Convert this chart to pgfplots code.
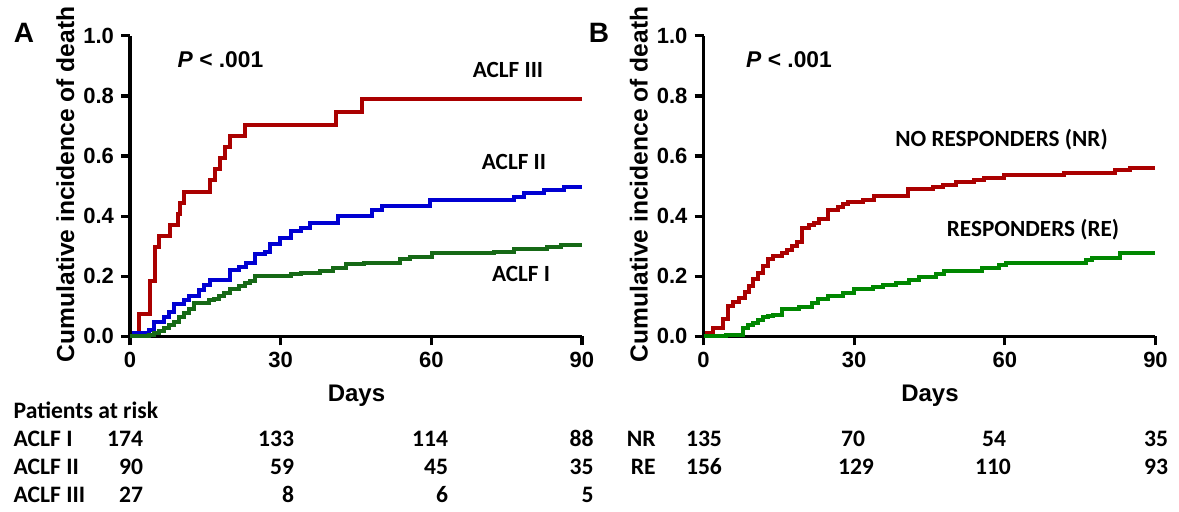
\documentclass[border=0pt]{standalone}
\usepackage{fontspec}
\setmainfont{Liberation Sans}
\newfontfamily\cali{Carlito}
\usepackage{pgfplots}
\pgfplotsset{compat=1.18}
\newcommand{\fs}[1]{\fontsize{#1}{#1}\selectfont}
\definecolor{kmred}{RGB}{170,0,0}
\definecolor{kmblue}{RGB}{0,0,210}
\definecolor{kmgreenA}{RGB}{22,105,22}
\definecolor{kmgreenB}{RGB}{0,135,0}
\pgfplotsset{km/.style={
  scale only axis, width=226pt, height=150.25pt,
  xmin=0, xmax=90, ymin=0, ymax=1,
  axis lines=left, axis line style={-, line width=1.6pt, black},
  tick style={line width=1.6pt, black}, tick align=outside, major tick length=4.5pt,
  xtick={0,30,60,90}, xticklabels={0,30,60,90},
  ytick={0,0.2,0.4,0.6,0.8,1}, yticklabels={0.0,0.2,0.4,0.6,0.8,1.0},
  ticklabel style={font=\bfseries\fs{11}},
  clip=false, anchor=south west,
  every axis plot/.append style={const plot, line width=2pt, no markers}
}}
\begin{document}
\begin{tikzpicture}
\begin{scope}[x=0.5pt,y=-0.5pt,yshift=254.5pt]
\useasboundingbox (0,0) rectangle (1179,509);
\end{scope}

% Panel A
\begin{axis}[km, at={(65pt,87.5pt)}]
\addplot[kmred] coordinates {(0,0) (1.8,0.074) (3.9,0.185) (4.9,0.296) (5.8,0.333) (7.9,0.370) (9.6,0.407) (9.9,0.444) (10.8,0.481) (16.0,0.519) (16.9,0.556) (18.0,0.593) (18.9,0.630) (20.0,0.667) (22.9,0.704) (41.1,0.745) (46.1,0.789) (90,0.789)};
\addplot[kmblue] coordinates {(0,0) (0.8,0.011) (3.8,0.022) (4.8,0.049) (6.7,0.063) (7.8,0.082) (8.8,0.108) (10.8,0.120) (11.8,0.135) (13.8,0.155) (14.8,0.170) (16.0,0.187) (20.0,0.221) (21.8,0.232) (23.1,0.245) (24.8,0.273) (26.8,0.281) (27.8,0.308) (29.8,0.328) (32.1,0.350) (34.1,0.362) (35.8,0.376) (41.5,0.400) (48.1,0.419) (50.1,0.433) (59.8,0.453) (76.5,0.464) (78.5,0.478) (82.5,0.486) (86.5,0.497) (90,0.497)};
\addplot[kmgreenA] coordinates {(0,0) (3.8,0.004) (4.8,0.011) (5.8,0.019) (6.8,0.027) (7.8,0.038) (8.8,0.049) (9.8,0.063) (10.8,0.077) (11.8,0.091) (12.8,0.111) (15.8,0.122) (16.8,0.126) (17.8,0.135) (18.8,0.144) (20.0,0.157) (21.8,0.166) (22.8,0.179) (23.8,0.185) (24.8,0.201) (32.1,0.206) (34.1,0.210) (37.8,0.218) (40.5,0.229) (43.1,0.240) (46.5,0.245) (53.8,0.257) (55.8,0.265) (60.1,0.276) (72.5,0.282) (76.5,0.290) (83.1,0.297) (85.8,0.303) (90,0.303)};
\end{axis}

% Panel B
\begin{axis}[km, at={(351.75pt,87.5pt)}]
\addplot[kmred] coordinates {(0,0) (0.7,0.011) (1.9,0.028) (3.9,0.058) (4.8,0.102) (5.8,0.115) (7.0,0.129) (8.2,0.148) (9.0,0.168) (9.9,0.190) (10.8,0.212) (11.8,0.234) (12.8,0.259) (13.8,0.268) (15.6,0.279) (16.6,0.287) (17.6,0.301) (18.6,0.315) (19.6,0.362) (21.1,0.369) (22.1,0.378) (22.9,0.391) (24.7,0.422) (26.7,0.431) (27.7,0.439) (28.7,0.447) (31.8,0.455) (33.9,0.466) (40.8,0.489) (45.6,0.497) (47.6,0.505) (50.2,0.513) (53.9,0.522) (55.9,0.527) (59.8,0.536) (71.8,0.544) (82.0,0.552) (85.0,0.560) (90,0.560)};
\addplot[kmgreenB] coordinates {(0,0) (4.5,0.006) (7.8,0.027) (8.8,0.038) (9.8,0.043) (10.8,0.055) (11.8,0.063) (12.8,0.068) (13.8,0.071) (15.6,0.091) (19.1,0.099) (21.7,0.110) (22.7,0.126) (24.7,0.135) (27.7,0.143) (30.0,0.156) (33.7,0.165) (35.7,0.171) (38.3,0.178) (41.0,0.187) (43.0,0.196) (46.3,0.207) (47.9,0.218) (55.5,0.226) (58.9,0.237) (60.2,0.245) (76.1,0.254) (77.4,0.262) (83.0,0.276) (90,0.276)};
\end{axis}

\begin{scope}[x=0.5pt,y=-0.5pt,yshift=254.5pt]
% panel letters
\node[font=\bfseries\fs{14}, anchor=base] at (24,40) {A};
\node[font=\bfseries\fs{14}, anchor=base] at (599,40) {B};
% y labels
\node[font=\bfseries\fs{12.3}, rotate=90, anchor=base] at (74,182) {Cumulative incidence of death};
\node[font=\bfseries\fs{12.3}, rotate=90, anchor=base] at (647.5,182) {Cumulative incidence of death};
% x labels
\node[font=\bfseries\fs{12}, anchor=base] at (356.5,399.3) {Days};
\node[font=\bfseries\fs{12}, anchor=base] at (930,399.3) {Days};
% P values
\node[font=\bfseries\fs{11.4}, anchor=base] at (220.5,65) {\textit{P} < .001};
\node[font=\bfseries\fs{11.4}, anchor=base] at (789,65) {\textit{P} < .001};
% curve labels
\node[font=\cali\bfseries\fs{11.6}, anchor=base] at (508,75) {ACLF III};
\node[font=\cali\bfseries\fs{11.6}, anchor=base] at (514,167.3) {ACLF II};
\node[font=\cali\bfseries\fs{11.6}, anchor=base] at (521,279.3) {ACLF I};
\node[font=\cali\bfseries\fs{11.6}, anchor=base] at (1001.5,144) {NO RESPONDERS (NR)};
\node[font=\cali\bfseries\fs{11.6}, anchor=base] at (1033,234) {RESPONDERS (RE)};
% risk table A
\begin{scope}[every node/.style={font=\cali\bfseries\fs{11.8}, inner sep=0pt}]
\node[anchor=base west] at (13.3,416) {Patients at risk};
\node[anchor=base west] at (13.3,444) {ACLF I};
\node[anchor=base west] at (13.3,472.5) {ACLF II};
\node[anchor=base west] at (13.3,500.5) {ACLF III};
\node[anchor=base east] at (143.5,444) {174};
\node[anchor=base east] at (294.5,444) {133};
\node[anchor=base east] at (448.5,444) {114};
\node[anchor=base east] at (594,444) {88};
\node[anchor=base east] at (143.5,472.5) {90};
\node[anchor=base east] at (294.5,472.5) {59};
\node[anchor=base east] at (448.5,472.5) {45};
\node[anchor=base east] at (594,472.5) {35};
\node[anchor=base east] at (143.5,500.5) {27};
\node[anchor=base east] at (294.5,500.5) {8};
\node[anchor=base east] at (448.5,500.5) {6};
\node[anchor=base east] at (594,500.5) {5};
% risk table B
\node[anchor=base east] at (656,444) {NR};
\node[anchor=base east] at (656,472.5) {RE};
\node[anchor=base] at (704,444) {135};
\node[anchor=base] at (853,444) {70};
\node[anchor=base] at (994,444) {54};
\node[anchor=base] at (1156,444) {35};
\node[anchor=base] at (704,472.5) {156};
\node[anchor=base] at (856,472.5) {129};
\node[anchor=base] at (993,472.5) {110};
\node[anchor=base] at (1156,472.5) {93};
\end{scope}
\end{scope}
\end{tikzpicture}
\end{document}
